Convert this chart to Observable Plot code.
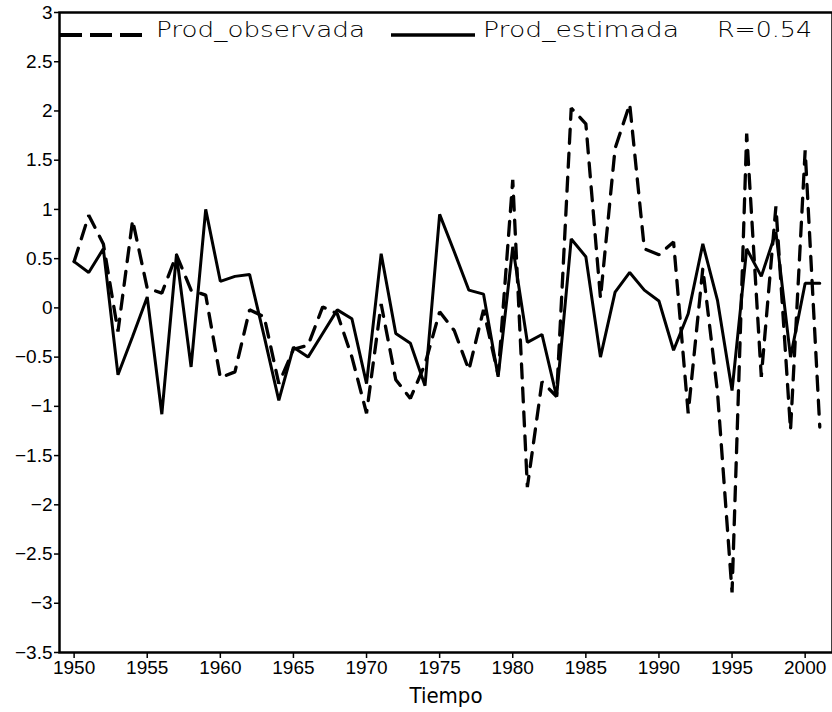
<!DOCTYPE html>
<html>
<head>
<meta charset="utf-8">
<script src="https://cdn.jsdelivr.net/npm/d3@7"></script>
<script src="https://cdn.jsdelivr.net/npm/@observablehq/plot@0.6"></script>
<style>
  html, body { margin: 0; padding: 0; background: #fff; }
  #wrap { position: relative; width: 832px; height: 712px; overflow: hidden; }
  #legend { position: absolute; left: 0; top: 0; }
</style>
</head>
<body>
<div id="wrap"></div>
<script>
const years = [1950,1951,1952,1953,1954,1955,1956,1957,1958,1959,
  1960,1961,1962,1963,1964,1965,1966,1967,1968,1969,
  1970,1971,1972,1973,1974,1975,1976,1977,1978,1979,
  1980,1981,1982,1983,1984,1985,1986,1987,1988,1989,
  1990,1991,1992,1993,1994,1995,1996,1997,1998,1999,
  2000,2001];

const prodObservada = [0.47,0.94,0.65,-0.24,0.89,0.20,0.15,0.54,0.18,0.13,
  -0.71,-0.65,-0.02,-0.09,-0.77,-0.42,-0.38,0.01,-0.06,-0.50,
  -1.07,0.04,-0.73,-0.92,-0.57,-0.04,-0.23,-0.63,-0.02,-0.68,
  1.30,-1.82,-0.75,-0.90,2.03,1.87,0.10,1.62,2.07,0.60,
  0.54,0.67,-1.07,0.40,-0.85,-2.89,1.77,-0.70,1.03,-1.24,
  1.60,-1.21];

const prodEstimada = [0.47,0.36,0.60,-0.68,-0.29,0.11,-1.08,0.54,-0.60,1.00,
  0.27,0.32,0.34,-0.29,-0.94,-0.40,-0.50,-0.26,-0.02,-0.11,
  -0.77,0.55,-0.26,-0.36,-0.79,0.95,0.57,0.18,0.14,-0.70,
  0.62,-0.35,-0.27,-0.90,0.70,0.52,-0.50,0.16,0.36,0.18,
  0.07,-0.43,-0.06,0.65,0.08,-0.84,0.60,0.32,0.77,-0.50,
  0.25,0.25];

const xTicks = [1950,1955,1960,1965,1970,1975,1980,1985,1990,1995,2000];
const yTicks = [3,2.5,2,1.5,1,0.5,0,-0.5,-1,-1.5,-2,-2.5,-3,-3.5];
const legendLabels = ["Prod_observada", "Prod_estimada", "R=0.54"];
const xLabel = "Tiempo";

const obsData = years.map((y, i) => ({year: y, value: prodObservada[i]}));
const estData = years.map((y, i) => ({year: y, value: prodEstimada[i]}));

const fmt = d => (d < 0 ? "\u2212" : "") + Math.abs(d);

const chart = Plot.plot({
  width: 832,
  height: 712,
  marginLeft: 59,
  marginRight: 0,
  marginTop: 12,
  marginBottom: 60,
  x: {domain: [1949, 2001.87]},
  y: {domain: [-3.5, 3]},
  style: {
    fontFamily: "'Liberation Sans Narrow', 'Liberation Sans', sans-serif",
    fontSize: "19px",
    color: "black",
    background: "white"
  },
  marks: [
    Plot.axisY({ticks: yTicks, tickFormat: fmt, tickSize: 5, tickPadding: 2, label: null, strokeWidth: 1.5}),
    Plot.axisX({ticks: xTicks, tickFormat: d => String(d), tickSize: 6, tickPadding: 2, label: null, strokeWidth: 1.5}),
    Plot.axisX({ticks: [], label: xLabel, labelAnchor: "center", labelArrow: "none", labelOffset: 50,
      fontFamily: "'DejaVu Sans Condensed', 'DejaVu Sans', sans-serif", fontSize: 22}),
    Plot.line(obsData, {x: "year", y: "value", stroke: "black", strokeWidth: 3.3,
      strokeDasharray: "14,10", strokeLinecap: "round", strokeLinejoin: "miter"}),
    Plot.line(estData, {x: "year", y: "value", stroke: "black", strokeWidth: 3, strokeLinejoin: "miter"}),
    Plot.frame({stroke: "black", strokeWidth: 2.5})
  ]
});

const wrap = document.getElementById("wrap");
wrap.appendChild(chart);

// Legend drawn inside the frame, as in the reference
const leg = d3.select(wrap).append("svg")
  .attr("id", "legend")
  .attr("width", 832).attr("height", 60);

const lineY = 35;
leg.append("line").attr("x1", 60).attr("x2", 149).attr("y1", lineY).attr("y2", lineY)
  .attr("stroke", "black").attr("stroke-width", 4).attr("stroke-dasharray", "22,8");
leg.append("line").attr("x1", 391).attr("x2", 475).attr("y1", lineY).attr("y2", lineY)
  .attr("stroke", "black").attr("stroke-width", 3.5);

const textSpecs = [
  {x: 156, w: 209, t: legendLabels[0]},
  {x: 483, w: 196, t: legendLabels[1]},
  {x: 717, w: 95, t: legendLabels[2]}
];
leg.selectAll("text.lg").data(textSpecs).join("text")
  .attr("class", "lg")
  .attr("x", d => d.x).attr("y", 37)
  .attr("textLength", d => d.w)
  .attr("lengthAdjust", "spacingAndGlyphs")
  .attr("font-family", "'DejaVu Sans', sans-serif")
  .attr("font-weight", 300)
  .attr("font-size", 21)
  .attr("fill", "black")
  .text(d => d.t);
</script>
</body>
</html>
